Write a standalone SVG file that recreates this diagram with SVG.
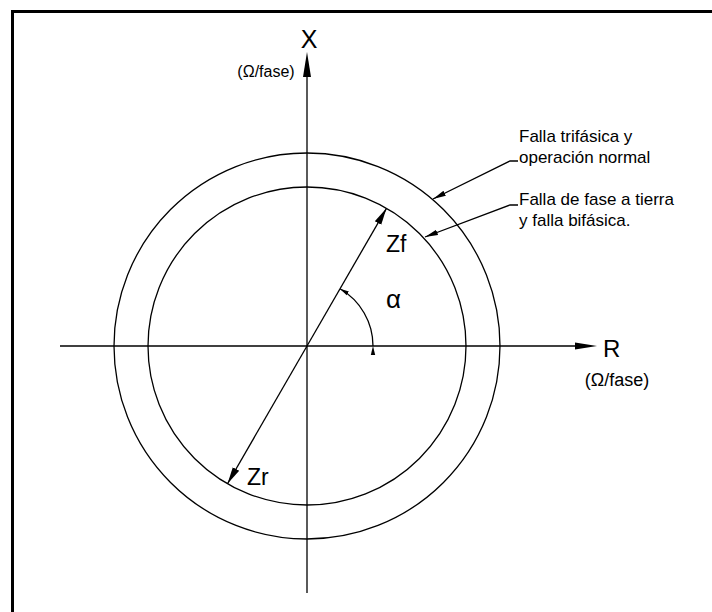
<svg xmlns="http://www.w3.org/2000/svg" width="712" height="612" viewBox="0 0 712 612">
<style>
  .ln{fill:none;stroke:#000;stroke-width:1.3}
  .t{font-family:"Liberation Sans",Arial,sans-serif;fill:#000}
</style>
<defs>
  <marker id="ah" markerWidth="18" markerHeight="10" refX="17" refY="5" orient="auto" markerUnits="userSpaceOnUse">
    <path d="M0,1.3 L17,5 L0,8.7 Z" fill="#000"/>
  </marker>
  <marker id="ahl" markerWidth="14" markerHeight="8" refX="13" refY="4" orient="auto" markerUnits="userSpaceOnUse">
    <path d="M0,1.2 L13,4 L0,6.8 Z" fill="#000"/>
  </marker>
  <marker id="ahs" markerWidth="10" markerHeight="6" refX="9" refY="3" orient="auto" markerUnits="userSpaceOnUse">
    <path d="M0,0.8 L9,3 L0,5.2 Z" fill="#000"/>
  </marker>
</defs>
<rect width="712" height="612" fill="#fff"/>
<path d="M12.5,612 L12.5,11.5 L712,11.5" fill="none" stroke="#000" stroke-width="3"/>

<g id="axes">
  <line class="ln" x1="307" y1="593" x2="307" y2="70"/>
  <path d="M307,52 L311,77 L303,77 Z" fill="#000"/>
  <line class="ln" x1="60" y1="346" x2="580" y2="346"/>
  <path d="M597,346 L575,342.5 L575,349.5 Z" fill="#000"/>
</g>

<g id="circles">
  <circle class="ln" cx="307" cy="346" r="193"/>
  <circle class="ln" cx="307" cy="346" r="159"/>
</g>

<g id="connectors">
  <line class="ln" x1="307" y1="346" x2="386.5" y2="208.3" marker-end="url(#ah)"/>
  <line class="ln" x1="307" y1="346" x2="227.5" y2="483.7" marker-end="url(#ah)"/>
  <path class="ln" d="M373,346 A66,66 0 0 0 340,288.8" marker-end="url(#ahs)" marker-start="url(#ahs)"/>
  <path class="ln" d="M518,161 L510,161 L433,199" marker-end="url(#ahl)"/>
  <path class="ln" d="M518,205 L510,205 L425,237" marker-end="url(#ahl)"/>
</g>

<g id="labels">
  <text class="t" x="309" y="48" font-size="25" text-anchor="middle">X</text>
  <text class="t" x="266" y="77" font-size="16" text-anchor="middle">(Ω/fase)</text>
  <text class="t" x="603" y="357" font-size="24">R</text>
  <text class="t" x="617" y="386" font-size="18" text-anchor="middle">(Ω/fase)</text>
  <text class="t" x="386" y="308" font-size="26">α</text>
  <text class="t" x="386" y="252" font-size="23">Zf</text>
  <text class="t" x="247" y="485" font-size="23">Zr</text>
  <text class="t" x="519" y="142" font-size="17">Falla trifásica y</text>
  <text class="t" x="519" y="163" font-size="17">operación normal</text>
  <text class="t" x="519" y="205" font-size="17">Falla de fase a tierra</text>
  <text class="t" x="519" y="226" font-size="17">y falla bifásica.</text>
</g>
</svg>
